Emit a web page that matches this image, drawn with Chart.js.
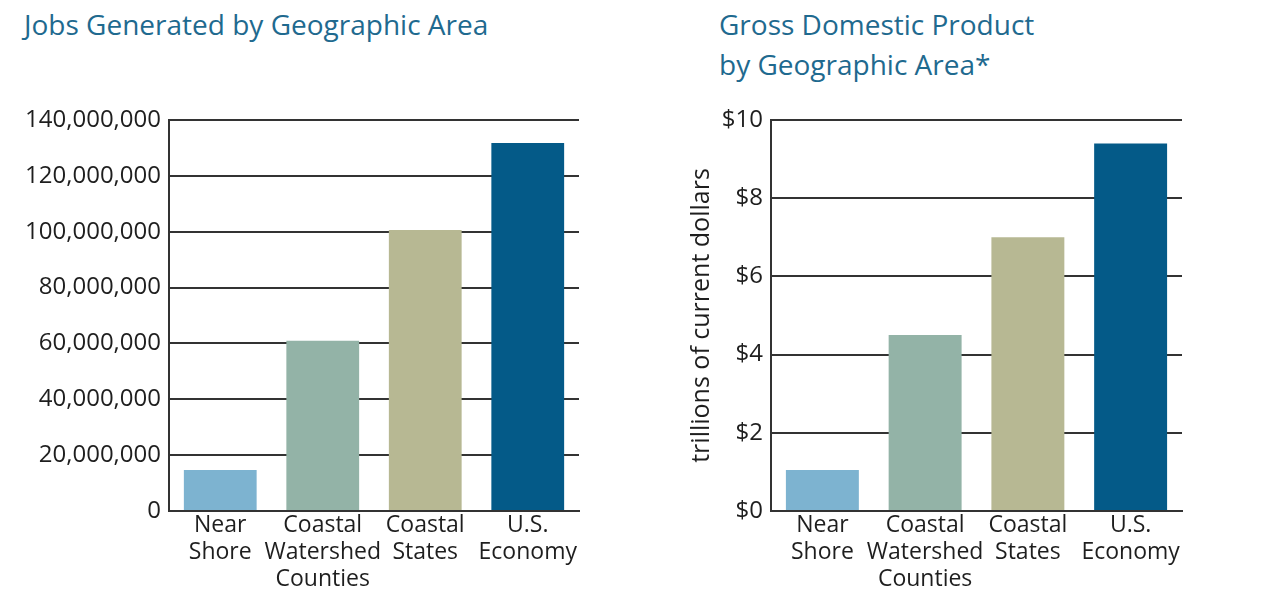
<!DOCTYPE html>
<html>
<head>
<meta charset="utf-8">
<script src="https://cdn.jsdelivr.net/npm/chart.js@4"></script>
<style>
  body { margin: 0; background: #fff; font-family: "Open Sans", sans-serif; }
  .title { position: absolute; color: #1f6a8f; font-size: 28px; line-height: 40px; margin: 0; font-weight: normal; }
  canvas { position: absolute; top: 0; }
</style>
</head>
<body>
<div class="title" style="left:24px; top:4px;">Jobs Generated by Geographic Area</div>
<div class="title" style="left:719px; top:4px;">Gross Domestic Product<br>by Geographic Area*</div>
<canvas id="jobsChart" width="580" height="591" style="left:20px;"></canvas>
<canvas id="gdpChart" width="520" height="591" style="left:680px;"></canvas>
<script>
  // categorias y valores
  const categories = [['Near', 'Shore'], ['Coastal', 'Watershed', 'Counties'], ['Coastal', 'States'], ['U.S.', 'Economy']];
  const jobs = [14700000, 61000000, 100600000, 131800000];
  const gdp = [1.05, 4.5, 7.0, 9.4];
  const barColors = ['#7db3d0', '#93b3a7', '#b7b893', '#045a88'];

  const lineColor = '#333333';
  const textColor = '#1e1e1e';

  function makeChart(id, values, opts) {
    const ctx = document.getElementById(id).getContext('2d');
    return new Chart(ctx, {
      type: 'bar',
      data: {
        labels: categories,
        datasets: [{
          data: values,
          backgroundColor: barColors,
          borderWidth: 0,
          categoryPercentage: 1,
          barPercentage: 0.71,
        }],
      },
      options: {
        responsive: false,
        animation: false,
        layout: { padding: { top: 120, right: opts.padRight, bottom: 0, left: 0 } },
        plugins: { legend: { display: false }, tooltip: { enabled: false } },
        scales: {
          x: {
            grid: { display: false, drawTicks: false },
            border: { display: true, color: lineColor, width: 2 },
            ticks: {
              color: textColor,
              font: { family: 'Open Sans', size: 23, lineHeight: 1.17 },
              padding: 1,
              maxRotation: 0,
              autoSkip: false,
            },
            afterFit: (scale) => { scale.height = 80; },
          },
          y: {
            min: 0,
            max: opts.max,
            grid: { color: lineColor, lineWidth: 2, drawTicks: false },
            border: { display: true, color: lineColor, width: 2 },
            ticks: {
              stepSize: opts.step,
              color: textColor,
              font: { family: 'Open Sans', size: 24 },
              padding: 8,
              callback: opts.format,
            },
            title: opts.yTitle ? {
              display: true,
              text: opts.yTitle,
              color: textColor,
              font: { family: 'Open Sans', size: 25 },
              padding: { top: 7, bottom: 0 },
            } : { display: false },
            afterFit: (scale) => { scale.width = opts.yWidth; },
          },
        },
      },
    });
  }

  makeChart('jobsChart', jobs, {
    max: 140000000,
    step: 20000000,
    format: (v) => v.toLocaleString('en-US'),
    yWidth: 149,
    padRight: 21,
  });

  makeChart('gdpChart', gdp, {
    max: 10,
    step: 2,
    format: (v) => '$' + v,
    yWidth: 91,
    padRight: 18,
    yTitle: 'trillions of current dollars',
  });
</script>
</body>
</html>
